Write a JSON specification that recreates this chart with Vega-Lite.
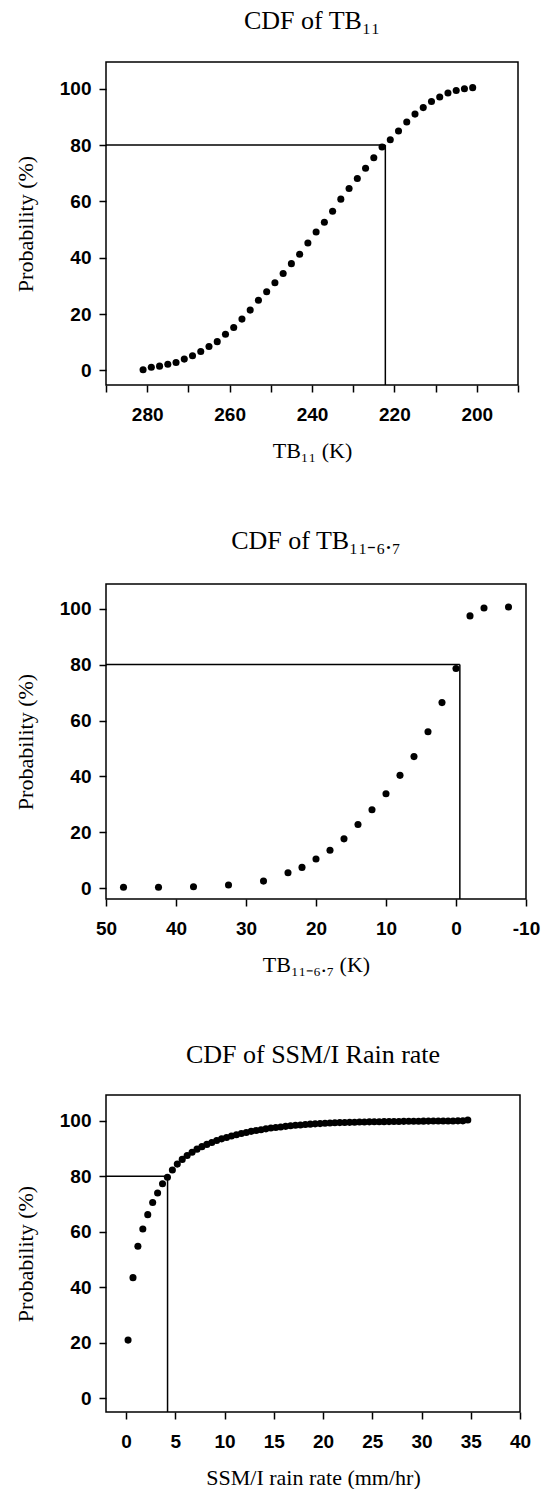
{
  "$schema": "https://vega.github.io/schema/vega-lite/v6.json",
  "padding": {"left": 13, "top": 7, "right": 0, "bottom": 0},
  "background": "white",
  "config": {
    "view": {"stroke": "black", "strokeWidth": 1.5},
    "axis": {"grid": false, "domain": false, "tickColor": "black", "tickWidth": 1.5, "tickSize": 7,
      "labelFont": "Liberation Sans", "labelFontWeight": "bold", "labelFontSize": 19, "labelColor": "black",
      "titleFont": "Liberation Serif", "titleFontWeight": "normal", "titleFontSize": 22, "titleColor": "black",
      "labelOverlap": false, "labelFlush": false},
    "axisX": {"labelPadding": 13, "titlePadding": 16},
    "axisY": {"labelPadding": 8, "titlePadding": 22},
    "title": {"font": "Liberation Serif", "fontSize": 26, "fontWeight": "normal", "color": "black", "offset": 28},
    "concat": {"spacing": 65}
  },
  "columns": 1,
  "concat": [
    {
      "width": 412, "height": 323,
      "title": {"text": "CDF of TB₁₁"},
      "layer": [
        {
          "data": {"values": [
            {"tb": 281, "p": 0.2}, {"tb": 279, "p": 1.1}, {"tb": 277, "p": 1.5}, {"tb": 275, "p": 2.2},
            {"tb": 273, "p": 2.8}, {"tb": 271, "p": 4.0}, {"tb": 269, "p": 5.2}, {"tb": 267, "p": 6.7},
            {"tb": 265, "p": 8.5}, {"tb": 263, "p": 10.2}, {"tb": 261, "p": 12.8}, {"tb": 259, "p": 15.2},
            {"tb": 257, "p": 18.2}, {"tb": 255, "p": 21.4}, {"tb": 253, "p": 24.9}, {"tb": 251, "p": 27.9},
            {"tb": 249, "p": 31.1}, {"tb": 247, "p": 34.4}, {"tb": 245, "p": 37.9}, {"tb": 243, "p": 41.2},
            {"tb": 241, "p": 45.2}, {"tb": 239, "p": 49.1}, {"tb": 237, "p": 52.6}, {"tb": 235, "p": 56.5},
            {"tb": 233, "p": 60.8}, {"tb": 231, "p": 64.6}, {"tb": 229, "p": 68.1}, {"tb": 227, "p": 71.8},
            {"tb": 225, "p": 75.5}, {"tb": 223, "p": 79.3}, {"tb": 221, "p": 81.9}, {"tb": 219, "p": 85.0},
            {"tb": 217, "p": 88.2}, {"tb": 215, "p": 91.0}, {"tb": 213, "p": 93.3}, {"tb": 211, "p": 95.5},
            {"tb": 209, "p": 97.1}, {"tb": 207, "p": 98.5}, {"tb": 205, "p": 99.4}, {"tb": 203, "p": 100.0},
            {"tb": 201, "p": 100.4}
          ]},
          "mark": {"type": "circle", "color": "black", "opacity": 1, "size": 50},
          "encoding": {
            "x": {"field": "tb", "type": "quantitative", "title": "TB₁₁ (K)",
              "scale": {"domain": [190, 290], "reverse": true, "nice": false, "zero": false},
              "axis": {"values": [190, 200, 210, 220, 230, 240, 250, 260, 270, 280, 290],
                "labelExpr": "datum.value % 20 == 0 && datum.value >= 200 && datum.value <= 280 ? datum.label : ''"}},
            "y": {"field": "p", "type": "quantitative", "title": "Probability (%)",
              "scale": {"domain": [-5.2, 109.5], "nice": false, "zero": false},
              "axis": {"values": [0, 20, 40, 60, 80, 100]}}
          }
        },
        {
          "data": {"values": [
            {"x": 290, "y": 80, "x2": 222.2, "y2": 80},
            {"x": 222.2, "y": 80, "x2": 222.2, "y2": -5.2}
          ]},
          "mark": {"type": "rule", "color": "black", "strokeWidth": 1.5},
          "encoding": {
            "x": {"field": "x", "type": "quantitative", "title": "TB₁₁ (K)"},
            "x2": {"field": "x2"},
            "y": {"field": "y", "type": "quantitative", "title": "Probability (%)"},
            "y2": {"field": "y2"}
          }
        }
      ]
    },
    {
      "width": 420, "height": 315,
      "title": {"text": "CDF of TB₁₁₋₆.₇", "offset": 30},
      "layer": [
        {
          "data": {"values": [
            {"d": 47.5, "p": 0.4}, {"d": 42.5, "p": 0.4}, {"d": 37.5, "p": 0.6}, {"d": 32.5, "p": 1.2},
            {"d": 27.5, "p": 2.6}, {"d": 24, "p": 5.6}, {"d": 22, "p": 7.5}, {"d": 20, "p": 10.5},
            {"d": 18, "p": 13.6}, {"d": 16, "p": 17.7}, {"d": 14, "p": 22.8}, {"d": 12, "p": 28.1},
            {"d": 10, "p": 33.8}, {"d": 8, "p": 40.4}, {"d": 6, "p": 47.1}, {"d": 4, "p": 56.0},
            {"d": 2, "p": 66.4}, {"d": 0, "p": 78.6}, {"d": -2, "p": 97.4}, {"d": -4, "p": 100.2},
            {"d": -7.5, "p": 100.6}
          ]},
          "mark": {"type": "circle", "color": "black", "opacity": 1, "size": 50},
          "encoding": {
            "x": {"field": "d", "type": "quantitative", "title": "TB₁₁₋₆.₇ (K)",
              "scale": {"domain": [-10, 50], "reverse": true, "nice": false, "zero": false},
              "axis": {"values": [-10, -5, 0, 5, 10, 15, 20, 25, 30, 35, 40, 45, 50],
                "labelExpr": "datum.value % 10 == 0 ? replace(datum.label, '−', '-') : ''"}},
            "y": {"field": "p", "type": "quantitative", "title": "Probability (%)",
              "scale": {"domain": [-3.8, 108.8], "nice": false, "zero": false},
              "axis": {"values": [0, 20, 40, 60, 80, 100]}}
          }
        },
        {
          "data": {"values": [
            {"x": 50, "y": 80, "x2": -0.55, "y2": 80},
            {"x": -0.55, "y": 80, "x2": -0.55, "y2": -3.8}
          ]},
          "mark": {"type": "rule", "color": "black", "strokeWidth": 1.5},
          "encoding": {
            "x": {"field": "x", "type": "quantitative", "title": "TB₁₁₋₆.₇ (K)"},
            "x2": {"field": "x2"},
            "y": {"field": "y", "type": "quantitative", "title": "Probability (%)"},
            "y2": {"field": "y2"}
          }
        }
      ]
    },
    {
      "width": 414, "height": 317,
      "title": {"text": "CDF of SSM/I Rain rate", "offset": 27},
      "layer": [
        {
          "data": {"values": [
            {"r": 0.2, "p": 21.0}, {"r": 0.7, "p": 43.5}, {"r": 1.2, "p": 54.8}, {"r": 1.7, "p": 61.0},
            {"r": 2.2, "p": 66.2}, {"r": 2.7, "p": 70.6}, {"r": 3.2, "p": 74.0}, {"r": 3.7, "p": 77.3},
            {"r": 4.2, "p": 79.7}, {"r": 4.7, "p": 82.3}, {"r": 5.2, "p": 84.4}, {"r": 5.7, "p": 86.1},
            {"r": 6.2, "p": 87.5}, {"r": 6.7, "p": 88.7}, {"r": 7.2, "p": 89.8}, {"r": 7.7, "p": 90.7},
            {"r": 8.2, "p": 91.5}, {"r": 8.7, "p": 92.2}, {"r": 9.2, "p": 92.9}, {"r": 9.7, "p": 93.5},
            {"r": 10.2, "p": 94.0}, {"r": 10.7, "p": 94.5}, {"r": 11.2, "p": 95.0}, {"r": 11.7, "p": 95.4},
            {"r": 12.2, "p": 95.8}, {"r": 12.7, "p": 96.2}, {"r": 13.2, "p": 96.5}, {"r": 13.7, "p": 96.8},
            {"r": 14.2, "p": 97.1}, {"r": 14.7, "p": 97.4}, {"r": 15.2, "p": 97.6}, {"r": 15.7, "p": 97.8},
            {"r": 16.2, "p": 98.0}, {"r": 16.7, "p": 98.2}, {"r": 17.2, "p": 98.4}, {"r": 17.7, "p": 98.5},
            {"r": 18.2, "p": 98.7}, {"r": 18.7, "p": 98.8}, {"r": 19.2, "p": 98.9}, {"r": 19.7, "p": 99.0},
            {"r": 20.2, "p": 99.1}, {"r": 20.7, "p": 99.2}, {"r": 21.2, "p": 99.3}, {"r": 21.7, "p": 99.35},
            {"r": 22.2, "p": 99.4}, {"r": 22.7, "p": 99.45}, {"r": 23.2, "p": 99.5}, {"r": 23.7, "p": 99.55},
            {"r": 24.2, "p": 99.6}, {"r": 24.7, "p": 99.62}, {"r": 25.2, "p": 99.65}, {"r": 25.7, "p": 99.68},
            {"r": 26.2, "p": 99.7}, {"r": 26.7, "p": 99.72}, {"r": 27.2, "p": 99.75}, {"r": 27.7, "p": 99.77},
            {"r": 28.2, "p": 99.8}, {"r": 28.7, "p": 99.82}, {"r": 29.2, "p": 99.84}, {"r": 29.7, "p": 99.86},
            {"r": 30.2, "p": 99.88}, {"r": 30.7, "p": 99.9}, {"r": 31.2, "p": 99.91}, {"r": 31.7, "p": 99.92},
            {"r": 32.2, "p": 99.94}, {"r": 32.7, "p": 99.95}, {"r": 33.2, "p": 99.96}, {"r": 33.7, "p": 99.98},
            {"r": 34.2, "p": 99.99}, {"r": 34.7, "p": 100.3}
          ]},
          "mark": {"type": "circle", "color": "black", "opacity": 1, "size": 50},
          "encoding": {
            "x": {"field": "r", "type": "quantitative", "title": "SSM/I rain rate (mm/hr)",
              "scale": {"domain": [-2.04, 40], "nice": false, "zero": false},
              "axis": {"values": [0, 5, 10, 15, 20, 25, 30, 35, 40]}},
            "y": {"field": "p", "type": "quantitative", "title": "Probability (%)",
              "scale": {"domain": [-4.9, 109.3], "nice": false, "zero": false},
              "axis": {"values": [0, 20, 40, 60, 80, 100]}}
          }
        },
        {
          "data": {"values": [
            {"x": -2.04, "y": 80, "x2": 4.21, "y2": 80},
            {"x": 4.21, "y": 80, "x2": 4.21, "y2": -4.9}
          ]},
          "mark": {"type": "rule", "color": "black", "strokeWidth": 1.5},
          "encoding": {
            "x": {"field": "x", "type": "quantitative", "title": "SSM/I rain rate (mm/hr)"},
            "x2": {"field": "x2"},
            "y": {"field": "y", "type": "quantitative", "title": "Probability (%)"},
            "y2": {"field": "y2"}
          }
        }
      ]
    }
  ]
}
